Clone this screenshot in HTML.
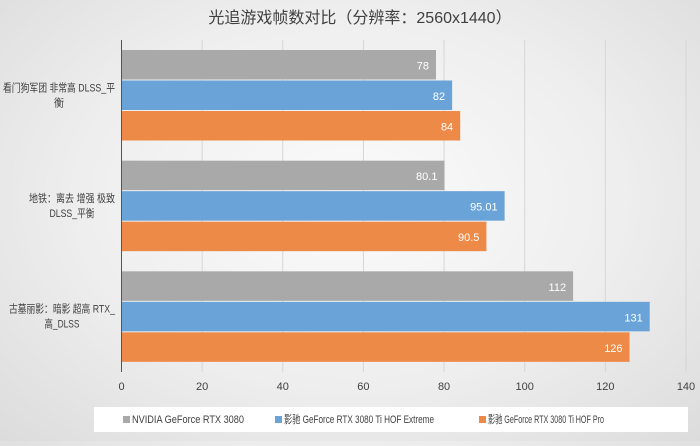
<!DOCTYPE html>
<html><head><meta charset="utf-8"><style>
html,body{margin:0;padding:0;}
body{width:700px;height:441px;overflow:hidden;background:radial-gradient(ellipse at 50% 45%,#fbfbfb 0%,#eeeeee 55%,#dcdcdc 100%);font-family:"Liberation Sans","Noto Sans CJK SC",sans-serif;}
svg text{font-family:"Liberation Sans","Noto Sans CJK SC",sans-serif;}
</style></head><body>
<svg id="chart" width="700" height="441">
<text x="360" y="23" text-anchor="middle" font-size="16" fill="#404040">光追游戏帧数对比（分辨率：2560x1440）</text>
<g id="grid"></g><g id="bars"></g><g id="cats"></g><g id="ticks"></g>
<rect x="94" y="407" width="594" height="25" fill="#ffffff"/>
<g id="legend"></g>
</svg>
<script>
const categories=["看门狗军团 非常高 DLSS_平衡","地铁：离去 增强 极致 DLSS_平衡","古墓丽影：暗影 超高 RTX_高_DLSS"];
const catLines=[["看门狗军团 非常高 DLSS_平","衡"],["地铁：离去 增强 极致","DLSS_平衡"],["古墓丽影：暗影 超高 RTX_","高_DLSS"]];
const seriesNames=["NVIDIA GeForce RTX 3080","影驰 GeForce RTX 3080 Ti HOF Extreme","影驰 GeForce RTX 3080 Ti HOF Pro"];
const rtx3080=[78,80.1,112];
const hofExtreme=[82,95.01,131];
const hofPro=[84,90.5,126];
const tickValues=[0,20,40,60,80,100,120,140];
const colors=["#a9a9a9","#6aa3d8","#ee8a47"];
const series=[rtx3080,hofExtreme,hofPro];
const NS="http://www.w3.org/2000/svg";
const x0=121.5,x1=686,yTop=40,yBot=372,maxV=140;
const xs=v=>x0+(v/maxV)*(x1-x0);
const band=(yBot-yTop)/categories.length;
const line1W=[112,86,106],line2W=[10,45,35];
const legX=[123,275,479],legW=[112,150,116];
function mk(tag,attrs,parent){const e=document.createElementNS(NS,tag);for(const k in attrs)e.setAttribute(k,attrs[k]);document.getElementById(parent).appendChild(e);return e;}
tickValues.forEach(t=>{
 const l=mk('line',{x1:xs(t),x2:xs(t),y1:yTop,y2:yBot,stroke:t===0?'#555':'#d6d6d6','stroke-width':1},'grid');
 
 
 const tx=mk('text',{x:xs(t),y:390,'text-anchor':'middle','font-size':11,fill:'#404040'},'ticks');
 tx.textContent=t;
 
 
});
categories.forEach((c,i)=>{
 const gy=yTop+i*band+10;
 series.forEach((s,j)=>{
  const y=gy+j*30.5;
  const r=mk('rect',{x:x0+0.5,y:y,width:xs(s[i])-x0-0.5,height:29.5,fill:colors[j]},'bars');
  
  
  const t=mk('text',{x:xs(s[i])-7,y:y+19.5,'text-anchor':'end','font-size':11,fill:'#ffffff'},'bars');
  t.textContent=s[i];
  
  
 });
 const cy=yTop+i*band+band/2;
 const w=line1W[i];
 const t1=mk('text',{x:115-w,y:cy-4,'font-size':11,fill:'#404040',textLength:w,lengthAdjust:'spacingAndGlyphs'},'cats');
 t1.textContent=catLines[i][0];
 
 
 const w2=line2W[i];
 const t2=mk('text',{x:115-w/2-w2/2,y:cy+11,'font-size':11,fill:'#404040',textLength:w2,lengthAdjust:'spacingAndGlyphs'},'cats');
 t2.textContent=catLines[i][1];
 
 
});
seriesNames.forEach((n,j)=>{
 const r=mk('rect',{x:legX[j],y:416,width:7,height:7,fill:colors[j]},'legend');
 
 
 const t=mk('text',{x:legX[j]+9,y:423,'font-size':11,fill:'#404040',textLength:legW[j],lengthAdjust:'spacingAndGlyphs'},'legend');
 t.textContent=n;
 
 
});
</script>
</body></html>
